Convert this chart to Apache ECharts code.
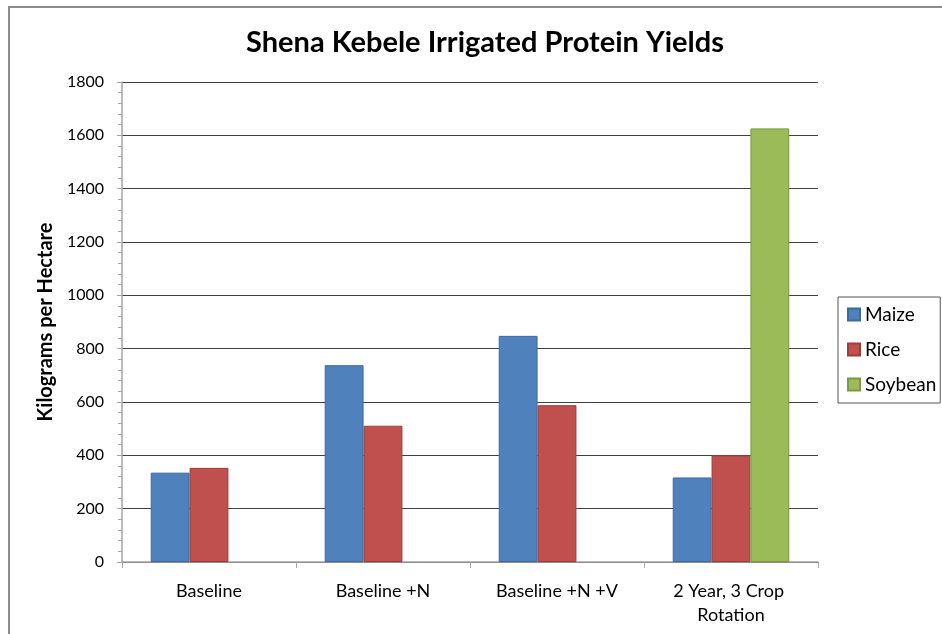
<!DOCTYPE html>
<html>
<head>
<meta charset="utf-8">
<script src="https://cdn.jsdelivr.net/npm/echarts@6/dist/echarts.min.js"></script>
<style>
    html, body {
        margin: 0;
        padding: 0;
        background: #ffffff;
    }
    #figure {
        width: 942px;
        height: 634px;
    }
    #frame {
        position: absolute;
        left: 8px;
        top: 6px;
        width: 940px;
        height: 640px;
        border-top: 2px solid #8c8c8c;
        border-left: 2px solid #8c8c8c;
        pointer-events: none;
    }
</style>
</head>
<body>
<div id="figure"></div>
<div id="frame"></div>
<script>
    const categories = ['Baseline', 'Baseline +N', 'Baseline +N +V', '2 Year, 3 Crop Rotation'];
    const maize = [335, 738, 848, 317];
    const rice = [353, 511, 588, 400];
    const soybean = [null, null, null, 1626];
    const yTicks = [0, 200, 400, 600, 800, 1000, 1200, 1400, 1600, 1800];

    const font = 'Lato, "Open Sans", sans-serif';

    function barSeries(name, data, color, border) {
        return {
            name: name,
            type: 'bar',
            data: data,
            barGap: '0%',
            barCategoryGap: '33%',
            itemStyle: {
                color: color,
                borderColor: border,
                borderWidth: 1
            }
        };
    }

    const figure = echarts.init(document.getElementById('figure'));
    figure.setOption({
        animation: false,
        title: {
            text: 'Shena Kebele Irrigated Protein Yields',
            left: 480,
            top: 23,
            textAlign: 'center',
            textStyle: {
                fontFamily: font,
                fontSize: 29,
                fontWeight: 'bold',
                color: '#000000'
            }
        },
        legend: {
            orient: 'vertical',
            left: 838,
            top: 297,
            width: 103,
            borderColor: '#555555',
            borderWidth: 1,
            padding: [8, 4, 9, 9],
            itemGap: 16,
            itemWidth: 12,
            itemHeight: 12,
            icon: 'rect',
            textStyle: {
                fontFamily: font,
                fontSize: 19,
                color: '#000000'
            }
        },
        grid: {
            left: 122,
            right: 124,
            top: 82,
            bottom: 72,
            containLabel: false
        },
        xAxis: {
            type: 'category',
            data: categories,
            axisLine: {
                lineStyle: {color: '#a6a6a6', width: 1.5}
            },
            axisTick: {
                show: true,
                length: 6,
                lineStyle: {color: '#a6a6a6'}
            },
            axisLabel: {
                interval: 0,
                margin: 17,
                width: 160,
                overflow: 'break',
                lineHeight: 24,
                fontFamily: font,
                fontSize: 18,
                color: '#000000'
            }
        },
        yAxis: {
            type: 'value',
            min: yTicks[0],
            max: yTicks[yTicks.length - 1],
            interval: 200,
            name: 'Kilograms per Hectare',
            nameLocation: 'middle',
            nameGap: 63,
            nameTextStyle: {
                fontFamily: font,
                fontSize: 20,
                fontWeight: 'bold',
                color: '#000000'
            },
            axisLine: {
                show: true,
                lineStyle: {color: '#a6a6a6', width: 1.5}
            },
            axisTick: {
                show: true,
                length: 5,
                lineStyle: {color: '#a6a6a6'}
            },
            minorTick: {
                show: true,
                splitNumber: 5,
                length: 4,
                lineStyle: {color: '#a6a6a6'}
            },
            axisLabel: {
                margin: 18,
                fontFamily: font,
                fontSize: 16,
                color: '#000000',
                formatter: function (v) {
                    return String(v);
                }
            },
            splitLine: {
                lineStyle: {color: '#404040', width: 1}
            }
        },
        series: [
            barSeries('Maize', maize, '#4f81bd', '#3d6a9e'),
            barSeries('Rice', rice, '#c0504d', '#9c3d3a'),
            barSeries('Soybean', soybean, '#9bbb59', '#7a9a44')
        ]
    });
</script>
</body>
</html>
